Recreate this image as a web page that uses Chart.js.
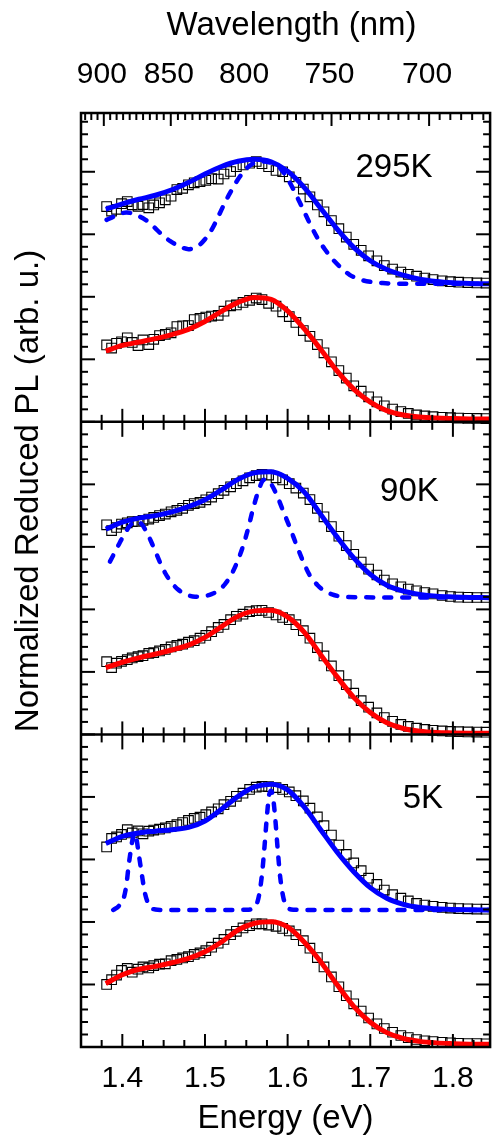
<!DOCTYPE html>
<html>
<head>
<meta charset="utf-8">
<script src="https://cdn.jsdelivr.net/npm/chart.js@4.4.1/dist/chart.umd.min.js"></script>
<style>
html,body{margin:0;padding:0;background:#fff;}
#wrap{width:498px;height:1144px;position:relative;}
</style>
</head>
<body>
<div id="wrap"><canvas id="c" width="498" height="1144"></canvas></div>
<script>
// ---------------- data ----------------
const sqE = [1.381,1.387,1.393,1.399,1.406,1.412,1.419,1.425,1.432,1.438,1.445,1.452,1.459,1.466,1.473,1.480,1.487,1.494,1.501,1.508,1.516,1.523,1.531,1.538,1.546,1.554,1.562,1.569,1.577,1.586,1.594,1.602,1.610,1.619,1.627,1.636,1.644,1.653,1.662,1.671,1.680,1.689,1.698,1.708,1.717,1.727,1.737,1.746,1.756,1.766,1.776,1.787,1.797,1.807,1.818,1.829,1.840];
const fitE = [1.38,1.40,1.42,1.44,1.46,1.48,1.50,1.52,1.54,1.56,1.58,1.60,1.62,1.64,1.66,1.68,1.70,1.72,1.74,1.76,1.78,1.80,1.82,1.845];

// 295K
const sq295Blue = [1.722,1.686,1.700,1.745,1.762,1.736,1.724,1.738,1.712,1.735,1.752,1.776,1.805,1.858,1.868,1.896,1.912,1.921,1.932,1.945,1.942,1.982,2.002,2.040,2.054,2.068,2.082,2.064,2.040,2.010,2.000,1.960,1.915,1.862,1.800,1.735,1.680,1.610,1.545,1.478,1.420,1.372,1.328,1.288,1.250,1.222,1.198,1.180,1.165,1.150,1.138,1.128,1.121,1.117,1.114,1.111,1.110];
const sq295Red = [0.615,0.590,0.628,0.640,0.672,0.635,0.610,0.655,0.618,0.660,0.690,0.700,0.712,0.762,0.768,0.770,0.818,0.828,0.838,0.846,0.852,0.885,0.928,0.935,0.955,0.972,0.990,0.978,0.948,0.925,0.880,0.842,0.795,0.730,0.684,0.618,0.552,0.480,0.410,0.350,0.288,0.245,0.200,0.160,0.128,0.102,0.082,0.067,0.055,0.047,0.041,0.036,0.033,0.030,0.028,0.027,0.026];
const fit295Blue = [1.700,1.743,1.780,1.812,1.856,1.914,1.982,2.042,2.084,2.100,2.080,2.005,1.875,1.708,1.541,1.395,1.288,1.218,1.173,1.140,1.122,1.112,1.107,1.104];
const fit295Red = [0.567,0.611,0.638,0.665,0.698,0.740,0.803,0.884,0.955,0.995,0.980,0.888,0.745,0.580,0.405,0.262,0.158,0.090,0.055,0.038,0.030,0.026,0.023,0.022];
const dash295E = [1.381,1.392,1.405,1.418,1.428,1.438,1.448,1.458,1.468,1.480,1.492,1.500,1.508,1.516,1.524,1.532,1.540,1.548,1.556,1.564,1.571,1.579,1.587,1.595,1.603,1.611,1.619,1.627,1.635,1.645,1.655,1.665,1.675,1.687,1.700,1.715,1.730,1.760,1.800,1.845];
const dash295 = [1.615,1.648,1.675,1.650,1.616,1.560,1.496,1.445,1.408,1.381,1.408,1.460,1.536,1.640,1.752,1.850,1.940,2.010,2.058,2.080,2.083,2.074,2.056,1.995,1.909,1.805,1.696,1.585,1.483,1.380,1.296,1.230,1.176,1.140,1.120,1.110,1.105,1.104,1.104,1.104];

// 90K
const sq90Blue = [1.676,1.630,1.655,1.682,1.692,1.702,1.703,1.712,1.722,1.735,1.750,1.762,1.780,1.792,1.808,1.832,1.846,1.856,1.876,1.898,1.925,1.952,1.980,2.005,2.028,2.052,2.070,2.080,2.074,2.052,2.035,2.005,1.970,1.930,1.878,1.808,1.740,1.662,1.585,1.510,1.440,1.378,1.322,1.275,1.235,1.204,1.180,1.162,1.148,1.135,1.124,1.111,1.103,1.098,1.096,1.095,1.095];
const sq90Red = [0.582,0.535,0.570,0.585,0.598,0.612,0.622,0.630,0.648,0.655,0.668,0.680,0.700,0.712,0.722,0.738,0.750,0.770,0.792,0.822,0.856,0.880,0.918,0.945,0.962,0.982,0.990,0.992,0.975,0.955,0.935,0.918,0.878,0.830,0.770,0.695,0.628,0.548,0.470,0.398,0.330,0.270,0.218,0.172,0.135,0.105,0.080,0.064,0.050,0.040,0.033,0.028,0.024,0.022,0.020,0.019,0.018];
const fit90Blue = [1.642,1.697,1.730,1.750,1.780,1.822,1.877,1.955,2.040,2.092,2.100,2.048,1.940,1.760,1.578,1.412,1.280,1.193,1.146,1.120,1.106,1.100,1.096,1.094];
const fit90Red = [0.534,0.577,0.612,0.643,0.675,0.714,0.776,0.862,0.945,0.988,0.994,0.940,0.818,0.638,0.460,0.296,0.175,0.093,0.047,0.025,0.015,0.012,0.010,0.009];
const dash90E = [1.385,1.392,1.397,1.403,1.408,1.413,1.418,1.423,1.428,1.434,1.440,1.446,1.452,1.460,1.468,1.478,1.488,1.498,1.508,1.516,1.524,1.532,1.540,1.546,1.552,1.558,1.564,1.570,1.574,1.578,1.583,1.589,1.595,1.603,1.611,1.619,1.627,1.636,1.646,1.656,1.666,1.690,1.750,1.845];
const dash90 = [1.382,1.470,1.535,1.605,1.660,1.692,1.703,1.685,1.636,1.555,1.463,1.370,1.289,1.210,1.156,1.118,1.102,1.104,1.122,1.150,1.200,1.280,1.395,1.505,1.640,1.800,1.935,2.030,2.040,2.020,1.969,1.880,1.780,1.650,1.510,1.380,1.270,1.195,1.142,1.115,1.102,1.097,1.095,1.094];

// 5K
const sq5Blue = [1.600,1.668,1.680,1.700,1.738,1.712,1.728,1.705,1.726,1.735,1.742,1.752,1.765,1.778,1.795,1.812,1.828,1.838,1.858,1.880,1.905,1.938,1.965,2.005,2.030,2.060,2.078,2.085,2.082,2.075,2.060,2.040,2.010,1.968,1.910,1.840,1.770,1.695,1.615,1.540,1.472,1.410,1.350,1.300,1.255,1.218,1.190,1.168,1.148,1.135,1.125,1.117,1.111,1.107,1.105,1.103,1.102];
const sq5Red = [0.500,0.538,0.575,0.612,0.628,0.598,0.622,0.640,0.632,0.650,0.662,0.665,0.690,0.700,0.712,0.722,0.740,0.752,0.770,0.798,0.830,0.860,0.898,0.925,0.952,0.970,0.985,0.985,0.975,0.965,0.948,0.928,0.898,0.850,0.790,0.715,0.640,0.560,0.482,0.410,0.345,0.288,0.232,0.185,0.148,0.118,0.092,0.075,0.060,0.050,0.043,0.037,0.033,0.030,0.028,0.027,0.026];
const fit5Blue = [1.627,1.685,1.712,1.726,1.738,1.756,1.808,1.902,2.005,2.080,2.102,2.056,1.920,1.738,1.558,1.402,1.275,1.189,1.140,1.115,1.105,1.100,1.097,1.096];
const fit5Red = [0.507,0.578,0.622,0.645,0.674,0.708,0.762,0.840,0.936,0.990,1.002,0.960,0.840,0.682,0.497,0.325,0.198,0.115,0.068,0.045,0.033,0.027,0.023,0.021];
const dash5E = [1.389,1.396,1.4016,1.405,1.4075,1.4095,1.4115,1.4135,1.4155,1.4175,1.4195,1.4234,1.4274,1.4333,1.440,1.450,1.500,1.550,1.560,1.565,1.569,1.572,1.575,1.5775,1.580,1.5825,1.585,1.588,1.591,1.595,1.600,1.607,1.650,1.750,1.845];
const dash5 = [1.096,1.130,1.189,1.300,1.443,1.540,1.629,1.690,1.709,1.650,1.560,1.389,1.229,1.123,1.100,1.096,1.096,1.097,1.115,1.200,1.380,1.600,1.850,2.010,2.050,1.990,1.830,1.580,1.360,1.190,1.115,1.098,1.096,1.096,1.096];

// axes / labels
const energyTicks = [1.4,1.5,1.6,1.7,1.8];
const wavelengthTicks = [900,850,800,750,700];
const panelLabels = ['295K','90K','5K'];
const panelOffsets = [5.0, 2.5, 0.0];
const xTitle = 'Energy (eV)';
const x2Title = 'Wavelength (nm)';
const yTitle = 'Normalized Reduced PL (arb. u.)';

// ---------------- chart ----------------
const FONT = '"Liberation Sans", Arial, Helvetica, sans-serif';
const HC = 1239.84;
const BLUE = '#0000ff', RED = '#ff0000';

const pts = (xs, ys, off) => xs.map((x, i) => ({x: x, y: ys[i] + off}));

function solid(xs, ys, off, color) {
  return {type:'scatter', data: pts(xs, ys, off), showLine:true, borderColor:color, borderWidth:5,
          pointRadius:0, cubicInterpolationMode:'monotone', fill:false};
}
function dashed(xs, ys, off) {
  return {type:'scatter', data: pts(xs, ys, off), showLine:true, borderColor:BLUE, borderWidth:4.5,
          borderDash:[7,11], borderCapStyle:'round', pointRadius:0, cubicInterpolationMode:'monotone', fill:false};
}
function squares(ys, off) {
  return {type:'scatter', data: pts(sqE, ys, off), showLine:false, pointStyle:'rect', pointRadius:6.8,
          pointBorderColor:'#000', pointBackgroundColor:'rgba(0,0,0,0)', pointBorderWidth:1.1,
          borderColor:'#000', backgroundColor:'rgba(0,0,0,0)'};
}

const datasets = [
  solid(fitE, fit295Blue, panelOffsets[0], BLUE),
  solid(fitE, fit295Red, panelOffsets[0], RED),
  solid(fitE, fit90Blue, panelOffsets[1], BLUE),
  solid(fitE, fit90Red, panelOffsets[1], RED),
  solid(fitE, fit5Blue, panelOffsets[2], BLUE),
  solid(fitE, fit5Red, panelOffsets[2], RED),
  dashed(dash295E, dash295, panelOffsets[0]),
  dashed(dash90E, dash90, panelOffsets[1]),
  dashed(dash5E, dash5, panelOffsets[2]),
  squares(sq295Blue, panelOffsets[0]),
  squares(sq295Red, panelOffsets[0]),
  squares(sq90Blue, panelOffsets[1]),
  squares(sq90Red, panelOffsets[1]),
  squares(sq5Blue, panelOffsets[2]),
  squares(sq5Red, panelOffsets[2])
];

const framePlugin = {
  id: 'frame',
  afterDatasetsDraw(chart) {
    const ctx = chart.ctx, a = chart.chartArea, x = chart.scales.x, y = chart.scales.y;
    ctx.save();
    ctx.strokeStyle = '#000';
    ctx.lineCap = 'butt';
    const seg = (x1, y1, x2, y2) => { ctx.beginPath(); ctx.moveTo(x1, y1); ctx.lineTo(x2, y2); ctx.stroke(); };
    // frame
    ctx.lineWidth = 2.5;
    ctx.strokeRect(a.left, a.top, a.right - a.left, a.bottom - a.top);
    // panel dividers
    const dividers = [panelOffsets[1], panelOffsets[0]];
    dividers.forEach(v => { const py = y.getPixelForValue(v); seg(a.left, py, a.right, py); });
    ctx.lineWidth = 2;
    // energy ticks (bottom + dividers)
    for (let k = 0; k <= 20; k++) {
      const e = 1.35 + 0.025 * k;
      if (e <= 1.351 || e >= 1.845) continue;
      const major = Math.abs(e * 10 - Math.round(e * 10)) < 1e-6;
      const L = major ? 13 : 7;
      const px = x.getPixelForValue(e);
      seg(px, a.bottom, px, a.bottom - L);
      dividers.forEach(v => { const py = y.getPixelForValue(v); seg(px, py - L, px, py + (major ? 15 : 8)); });
    }
    // wavelength ticks (top)
    for (let lam = 915; lam >= 675; lam -= 5) {
      const px = x.getPixelForValue(HC / lam);
      const L = (lam % 50 === 0) ? 13 : 7;
      seg(px, a.top, px, a.top + L);
    }
    // y ticks left/right
    for (let k = 0; k <= 74; k++) {
      const v = k * 0.1;
      const py = y.getPixelForValue(v);
      const L = (k % 5 === 0) ? 14 : 7;
      seg(a.left, py, a.left + L, py);
      seg(a.right, py, a.right - L, py);
    }
    ctx.fillStyle = '#000';
    ctx.textBaseline = 'middle';
    ctx.textAlign = 'center';
    // bottom tick labels
    ctx.font = '30px ' + FONT;
    energyTicks.forEach(v => ctx.fillText(v.toFixed(1), x.getPixelForValue(v), a.bottom + 32));
    // top tick labels
    wavelengthTicks.forEach(l => ctx.fillText(String(l), x.getPixelForValue(HC / l) - 2, a.top - 38.5));
    // axis titles
    ctx.font = '33px ' + FONT;
    ctx.fillText(xTitle, (a.left + a.right) / 2, a.bottom + 71.5);
    ctx.fillText(x2Title, (a.left + a.right) / 2 + 6, a.top - 87);
    // panel labels
    ctx.textAlign = 'left';
    const labelPos = [[1.6821, 7.028], [1.7119, 4.436], [1.7393, 1.984]];
    panelLabels.forEach((t, i) => {
      ctx.fillText(t, x.getPixelForValue(labelPos[i][0]), y.getPixelForValue(labelPos[i][1]));
    });
    // y title
    ctx.textAlign = 'center';
    ctx.translate(29, 491);
    ctx.rotate(-Math.PI / 2);
    ctx.fillText(yTitle, 0, 0);
    ctx.restore();
  }
};

new Chart(document.getElementById('c'), {
  type: 'scatter',
  data: { datasets: datasets },
  options: {
    responsive: false,
    animation: false,
    devicePixelRatio: 1,
    layout: { padding: { left: 81, right: 1, top: 113, bottom: 97 } },
    plugins: { legend: { display: false }, tooltip: { enabled: false } },
    scales: {
      x: { type: 'linear', position: 'bottom', min: 1.35, max: 1.845, display: false },
      y: { type: 'linear', min: 0, max: 7.47, display: false }
    }
  },
  plugins: [framePlugin]
});
</script>
</body>
</html>
